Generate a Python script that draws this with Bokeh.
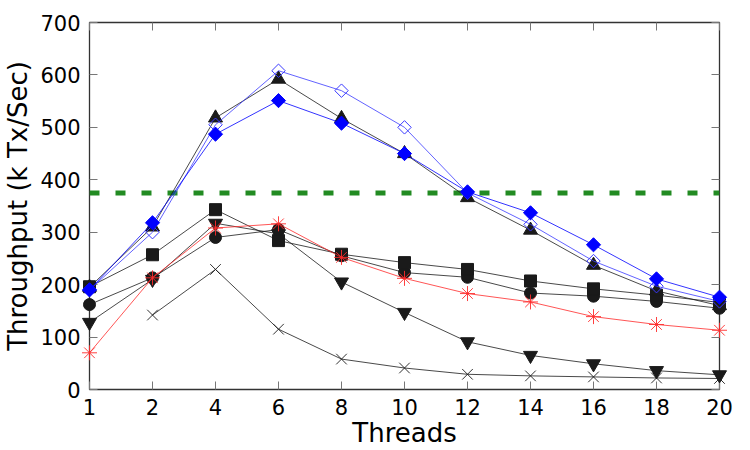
import math
from bokeh.plotting import figure
from bokeh.models import Range1d, LinearAxis, FixedTicker, Span
from bokeh.embed import file_html
from bokeh.resources import INLINE

nan = float("nan")

# thread counts shown as evenly spaced categories
threads = ["1", "2", "4", "6", "8", "10", "12", "14", "16", "18", "20"]
y_ticks = [0, 100, 200, 300, 400, 500, 600, 700]

# throughput series (k Tx/Sec)
diamond_open = [190, 300, 505, 608, 570, 500, 375, 315, 245, 197, 168]
diamond_filled = [190, 318, 487, 551, 508, 450, 377, 337, 276, 211, 176]
triangle_up = [195, 310, 518, 592, 517, 450, 366, 304, 237, 188, 160]
square = [196, 257, 343, 284, 258, 242, 229, 207, 192, 180, 166]
circle = [162, 213, 290, 305, 255, 223, 214, 184, 178, 168, 155]
triangle_down = [128, 210, 317, 297, 205, 147, 91, 65, 49, 36, 28]
asterisk = [70, 213, 308, 316, 252, 212, 183, 167, 139, 124, 113]
cross = [nan, 142, 229, 115, 58, 41, 29, 26, 24, 22, 21]
limit = 375

xs = list(range(len(threads)))
FONT = "DejaVu Sans"

p = figure(width=750, height=450, output_backend="svg", toolbar_location=None,
           x_range=Range1d(0, len(threads) - 1), y_range=Range1d(0, 700),
           min_border_left=89, min_border_right=31, min_border_top=22,
           min_border_bottom=61)
p.background_fill_color = "white"
p.border_fill_color = "white"
p.outline_line_color = "#333333"
p.outline_line_width = 1.3
p.xgrid.visible = False
p.ygrid.visible = False

x_ticker = FixedTicker(ticks=xs)
y_ticker = FixedTicker(ticks=y_ticks)
labels = {i: t for i, t in enumerate(threads)}


def style_axis(ax, show_labels):
    ax.axis_line_color = None
    ax.major_tick_in = 8
    ax.major_tick_out = 0
    ax.minor_tick_line_color = None
    ax.major_tick_line_color = "#777777"
    ax.major_tick_line_width = 1
    if show_labels:
        ax.major_label_text_font = FONT
        ax.major_label_text_font_size = "21px"
        ax.major_label_text_color = "black"
        ax.axis_label_text_font = FONT
        ax.axis_label_text_font_size = "26px"
        ax.axis_label_text_font_style = "normal"
        ax.axis_label_text_color = "black"
    else:
        # mirrored tick marks only, no labels painted
        ax.major_label_text_font_size = "6px"
        ax.major_label_text_color = None


xa = p.xaxis[0]
xa.ticker = x_ticker
xa.major_label_overrides = labels
xa.axis_label = "Threads"
xa.major_label_standoff = 9
xa.axis_label_standoff = 0
style_axis(xa, True)

ya = p.yaxis[0]
ya.ticker = y_ticker
ya.axis_label = "Throughput (k Tx/Sec)"
ya.major_label_standoff = 9
ya.axis_label_standoff = 4
style_axis(ya, True)

top = LinearAxis(ticker=x_ticker)
style_axis(top, False)
p.add_layout(top, "above")
right = LinearAxis(ticker=y_ticker)
style_axis(right, False)
p.add_layout(right, "right")

# reference level
p.add_layout(Span(location=limit, dimension="width", line_color="#228b22",
                  line_width=5, line_dash="10 16"))

BLACK = "#1a1a1a"


def series(values, marker, color, size, fill=True, angle=0.0, lw=0.8,
           mlw=1.0):
    ln = p.line(xs, values, line_color=color, line_width=lw)
    sc = p.scatter(xs, values, marker=marker, size=size, angle=angle,
                   line_color=color, line_width=mlw,
                   fill_color=color if fill else None)
    ln.level = "overlay"
    sc.level = "overlay"


series(cross, "x", BLACK, 15, fill=False, mlw=0.9)
series(triangle_down, "inverted_triangle", BLACK, 14)
series(circle, "circle", BLACK, 12)
series(square, "square", BLACK, 12)
series(triangle_up, "triangle", BLACK, 14)
series(asterisk, "asterisk", "#ff2a2a", 15, fill=False, mlw=0.9)
series(diamond_open, "square", "#3a3aff", 9.5, fill=False, angle=math.pi / 4,
       mlw=1.0)
series(diamond_filled, "square", "#0000ff", 10, angle=math.pi / 4)

open("out.html", "w").write(file_html(p, INLINE))
